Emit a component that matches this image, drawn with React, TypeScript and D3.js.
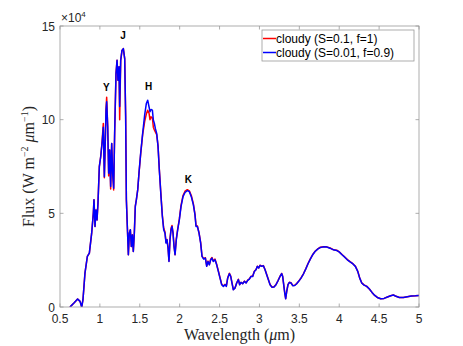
import * as d3 from "d3";

// wavelength (um) shared by both spectra
const wavelength = [
  0.625, 0.675, 0.721, 0.751, 0.772, 0.788, 0.813, 0.843, 0.868, 0.897, 0.918, 0.926, 0.939, 0.951, 0.964, 0.976,
  0.993, 1.01, 1.027, 1.043, 1.056, 1.068, 1.077, 1.085, 1.098, 1.11, 1.123, 1.135, 1.148, 1.16, 1.173, 1.185,
  1.202, 1.215, 1.227, 1.24, 1.248, 1.261, 1.277, 1.294, 1.311, 1.323, 1.332, 1.344, 1.357, 1.369, 1.382, 1.394,
  1.407, 1.419, 1.432, 1.444, 1.457, 1.474, 1.49, 1.511, 1.536, 1.561, 1.582, 1.599, 1.616, 1.628, 1.641, 1.658,
  1.67, 1.683, 1.695, 1.712, 1.729, 1.745, 1.766, 1.783, 1.8, 1.816, 1.829, 1.841, 1.854, 1.866, 1.879, 1.892,
  1.904, 1.917, 1.929, 1.942, 1.958, 1.975, 1.996, 2.017, 2.042, 2.067, 2.096, 2.121, 2.146, 2.172, 2.192, 2.205,
  2.222, 2.243, 2.263, 2.28, 2.301, 2.322, 2.339, 2.355, 2.372, 2.389, 2.405, 2.422, 2.443, 2.464, 2.485, 2.506,
  2.527, 2.548, 2.569, 2.585, 2.602, 2.623, 2.64, 2.656, 2.673, 2.694, 2.715, 2.736, 2.752, 2.769, 2.79, 2.811,
  2.832, 2.853, 2.874, 2.894, 2.915, 2.936, 2.957, 2.974, 2.991, 3.007, 3.028, 3.049, 3.07, 3.091, 3.112, 3.133,
  3.158, 3.183, 3.208, 3.233, 3.258, 3.279, 3.291, 3.304, 3.317, 3.329, 3.342, 3.358, 3.375, 3.396, 3.417, 3.442,
  3.467, 3.492, 3.521, 3.551, 3.58, 3.609, 3.638, 3.668, 3.697, 3.73, 3.764, 3.801, 3.843, 3.885, 3.927, 3.968,
  4.002, 4.035, 4.069, 4.102, 4.136, 4.169, 4.202, 4.232, 4.257, 4.282, 4.311, 4.345, 4.378, 4.411, 4.445, 4.478,
  4.52, 4.562, 4.604, 4.645, 4.679, 4.712, 4.754, 4.804, 4.854, 4.905, 4.955, 5.0,
];

// flux in units of 1e4 W m^-2 um^-1
const fluxS01 = [
  0, 0.21, 0.43, 0.3, 0, 0.39, 1.81, 2.7, 2.88, 3.94, 5.01, 5.72, 4.3, 5.18, 4.65, 5.54,
  7.49, 8.02, 8.8, 9.8, 6.9, 8.91, 10.6, 11.2, 9.62, 7.0, 8.38, 6.3, 8.73, 7.14, 6.25, 9.27,
  12.46, 13.17, 12.11, 12.82, 10.0, 13.17, 13.7, 13.79, 13.26, 10.15, 5.72, 4.3, 2.79, 3.94, 4.12, 3.23,
  3.85, 2.96, 4.0, 5.4, 5.72, 6.25, 7.14, 8.15, 9.2, 9.9, 10.3, 10.5, 10.35, 10.0, 10.15, 10.1,
  9.6, 9.45, 9.35, 9.2, 8.6, 7.35, 5.95, 4.9, 4.2, 4.0, 3.45, 3.6, 3.2, 2.45, 3.65, 4.2,
  4.35, 3.94, 3.28, 2.79, 3.65, 4.15, 4.7, 5.42, 5.95, 6.18, 6.26, 6.2, 5.95, 5.5, 4.95, 4.35,
  4.33, 3.95, 3.45, 2.72, 2.58, 2.63, 2.19, 2.45, 2.27, 2.55, 2.64, 2.45, 2.56, 2.27, 1.92, 1.56,
  1.21, 1.12, 1.21, 1.12, 1.56, 1.8, 1.65, 1.29, 0.93, 1.02, 1.29, 1.48, 1.2, 1.32, 1.25, 1.38,
  1.29, 1.43, 1.5, 1.64, 1.64, 1.91, 2.0, 2.18, 2.09, 2.23, 2.18, 2.21, 2.0, 1.73, 1.47, 1.2,
  1.06, 1.08, 1.2, 1.41, 1.64, 1.79, 1.64, 1.2, 0.76, 0.45, 0.84, 1.2, 1.32, 1.29, 1.15, 1.16,
  1.25, 1.38, 1.55, 1.77, 2.03, 2.32, 2.57, 2.8, 2.97, 3.1, 3.19, 3.22, 3.21, 3.15, 3.06, 3.03,
  2.94, 2.8, 2.67, 2.53, 2.42, 2.32, 2.18, 1.91, 1.55, 1.29, 1.18, 1.1, 0.96, 0.78, 0.62, 0.51,
  0.44, 0.46, 0.53, 0.6, 0.64, 0.57, 0.51, 0.51, 0.55, 0.59, 0.6, 0.62,
];

const fluxS001 = [
  0, 0.21, 0.43, 0.3, 0, 0.39, 1.81, 2.7, 2.88, 3.94, 5.01, 5.72, 4.3, 5.18, 4.65, 5.54,
  7.49, 8.02, 8.73, 9.6, 6.96, 8.91, 10.51, 10.95, 9.62, 7.14, 8.38, 6.43, 8.73, 7.14, 6.34, 9.27,
  12.46, 13.17, 12.11, 12.82, 10.7, 13.17, 13.7, 13.79, 13.26, 10.15, 5.72, 4.3, 2.79, 3.94, 4.12, 3.23,
  3.85, 2.96, 3.94, 5.36, 5.72, 6.25, 7.14, 8.2, 9.27, 10.24, 10.86, 11.04, 10.69, 10.42, 10.54, 10.51,
  9.98, 9.8, 9.53, 9.27, 8.56, 7.31, 5.89, 4.83, 4.12, 3.94, 3.41, 3.59, 3.14, 2.43, 3.59, 4.12,
  4.3, 3.94, 3.23, 2.79, 3.59, 4.12, 4.65, 5.36, 5.89, 6.11, 6.21, 6.16, 5.89, 5.45, 4.92, 4.3,
  4.3, 3.94, 3.41, 2.7, 2.56, 2.61, 2.17, 2.43, 2.25, 2.52, 2.61, 2.43, 2.52, 2.25, 1.9, 1.54,
  1.19, 1.1, 1.19, 1.1, 1.54, 1.78, 1.63, 1.28, 0.92, 1.01, 1.28, 1.46, 1.19, 1.31, 1.24, 1.37,
  1.28, 1.42, 1.49, 1.63, 1.63, 1.9, 1.99, 2.17, 2.08, 2.22, 2.17, 2.2, 1.99, 1.72, 1.46, 1.19,
  1.05, 1.07, 1.19, 1.4, 1.63, 1.78, 1.63, 1.19, 0.75, 0.44, 0.83, 1.19, 1.31, 1.28, 1.14, 1.15,
  1.24, 1.37, 1.54, 1.76, 2.02, 2.31, 2.56, 2.79, 2.96, 3.09, 3.18, 3.21, 3.2, 3.14, 3.05, 3.02,
  2.93, 2.79, 2.66, 2.52, 2.41, 2.31, 2.17, 1.9, 1.54, 1.28, 1.17, 1.1, 0.96, 0.78, 0.62, 0.51,
  0.44, 0.46, 0.53, 0.6, 0.64, 0.57, 0.51, 0.51, 0.55, 0.59, 0.6, 0.62,
];

const xTicks = [0.5, 1, 1.5, 2, 2.5, 3, 3.5, 4, 4.5, 5];
const yTicks = [0, 5, 10, 15];

const bands = [
  { name: "Y", x: 1.08, y: 11.55 },
  { name: "J", x: 1.29, y: 14.3 },
  { name: "H", x: 1.61, y: 11.6 },
  { name: "K", x: 2.11, y: 6.6 },
];

const series = [
  { label: "cloudy (S=0.1, f=1)", color: "#ff0000", values: fluxS01 },
  { label: "cloudy (S=0.01, f=0.9)", color: "#0000ff", values: fluxS001 },
];

const W = 463;
const H = 346;
const left = 60;
const right = 419;
const top = 26;
const bottom = 307;
const axisColor = "#999999";
const textColor = "#262626";
const sans = "'Liberation Sans', Arial, sans-serif";
const serif = "'Liberation Serif', 'Times New Roman', serif";

export default function App() {
  const x = d3.scaleLinear().domain([0.5, 5]).range([left, right]);
  const y = d3.scaleLinear().domain([0, 15]).range([bottom, top]);

  const line = d3
    .line<number>()
    .x((_, i) => x(wavelength[i]))
    .y((d) => y(d));

  return (
    <svg
      width={W}
      height={H}
      style={{ position: "absolute", left: 0, top: 0, background: "#fff" }}
    >
      <defs>
        <clipPath id="plot">
          <rect x={left} y={top} width={right - left} height={bottom - top} />
        </clipPath>
      </defs>

      <g clipPath="url(#plot)">
        {series.map((s) => (
          <path key={s.label} d={line(s.values) ?? ""} fill="none" stroke={s.color} strokeWidth={1.5} strokeLinejoin="round" />
        ))}
      </g>

      {/* box */}
      <rect x={left} y={top} width={right - left} height={bottom - top} fill="none" stroke={axisColor} strokeWidth={0.8} />

      {xTicks.map((t) => (
        <g key={"x" + t}>
          <line x1={x(t)} x2={x(t)} y1={bottom} y2={bottom - 3.5} stroke={axisColor} strokeWidth={0.8} />
          <line x1={x(t)} x2={x(t)} y1={top} y2={top + 3.5} stroke={axisColor} strokeWidth={0.8} />
          <text x={x(t)} y={bottom + 16} textAnchor="middle" fontFamily={sans} fontSize={12} fill={textColor}>
            {t}
          </text>
        </g>
      ))}
      {yTicks.map((t) => (
        <g key={"y" + t}>
          <line x1={left} x2={left + 3.5} y1={y(t)} y2={y(t)} stroke={axisColor} strokeWidth={0.8} />
          <line x1={right} x2={right - 3.5} y1={y(t)} y2={y(t)} stroke={axisColor} strokeWidth={0.8} />
          <text x={left - 5} y={y(t) + 4.5} textAnchor="end" fontFamily={sans} fontSize={12} fill={textColor}>
            {t}
          </text>
        </g>
      ))}

      <text x={left + 1} y={top - 4} fontFamily={sans} fontSize={12} fill={textColor}>
        ×10
        <tspan dy={-5} fontSize={8}>4</tspan>
      </text>

      <text x={(left + right) / 2} y={bottom + 33} textAnchor="middle" fontFamily={serif} fontSize={16} fill={textColor}>
        Wavelength (<tspan fontStyle="italic">μ</tspan>m)
      </text>
      <text
        transform={`translate(34, ${(top + bottom) / 2}) rotate(-90)`}
        textAnchor="middle"
        fontFamily={serif}
        fontSize={16}
        fill={textColor}
      >
        Flux (W m<tspan dy={-6} fontSize={10}>−2</tspan>
        <tspan dy={6}> </tspan>
        <tspan fontStyle="italic">μ</tspan>m<tspan dy={-6} fontSize={10}>−1</tspan>
        <tspan dy={6}>)</tspan>
      </text>

      {bands.map((b) => (
        <text key={b.name} x={x(b.x)} y={y(b.y)} textAnchor="middle" fontFamily={sans} fontSize={10} fontWeight="bold" fill="#000">
          {b.name}
        </text>
      ))}

      {/* legend */}
      <g>
        <rect x={262} y={30} width={152} height={31} fill="#fff" stroke={axisColor} strokeWidth={0.8} />
        {series.map((s, i) => (
          <g key={s.label}>
            <line x1={263} x2={276} y1={38.5 + i * 14} y2={38.5 + i * 14} stroke={s.color} strokeWidth={1.5} />
            <text x={276} y={42.5 + i * 14} fontFamily={sans} fontSize={12} fill="#000">
              {s.label}
            </text>
          </g>
        ))}
      </g>
    </svg>
  );
}
